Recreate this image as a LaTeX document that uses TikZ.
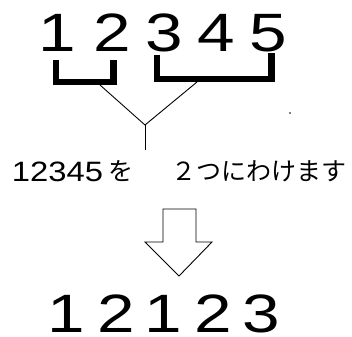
\documentclass[tikz,border=0pt]{standalone}
\usepackage{fontspec}
\setmainfont{Liberation Sans}
\newfontfamily\jpfont{Noto Sans CJK JP}
\begin{document}
\begin{tikzpicture}[x=1pt,y=-1pt,
  bigdigit/.style={inner sep=0pt,anchor=base,font=\fontsize{54}{54}\selectfont},
  smalltext/.style={inner sep=0pt,anchor=base,font=\fontsize{28}{28}\selectfont},
  jptext/.style={inner sep=0pt,anchor=base,font=\jpfont\fontsize{25}{25}\selectfont},
  bracket/.style={line width=6.5pt,line cap=butt,line join=miter},
  thin/.style={line width=0.9pt}]
\useasboundingbox (0,0) rectangle (352,336);
% top digits
\node[bigdigit] (t1) at (57.5,52) {\scalebox{1.25}[1]{1}};
\node[bigdigit] (t2) at (112.5,52) {\scalebox{1.25}[1]{2}};
\node[bigdigit] (t3) at (164.5,52) {\scalebox{1.25}[1]{3}};
\node[bigdigit] (t4) at (216.5,52) {\scalebox{1.25}[1]{4}};
\node[bigdigit] (t5) at (268.5,52) {\scalebox{1.25}[1]{5}};
% brackets
\draw[bracket] (56,60) -- (56,82) -- (113.5,82) -- (113.5,60);
\draw[bracket] (157,55) -- (157,79) -- (271.5,79) -- (271.5,53);
% branch lines
\coordinate (lb) at (100,85);
\coordinate (rb) at (197,82);
\coordinate (j) at (145,125);
\coordinate (jb) at (145,150);
\draw[thin] (lb) -- (j) -- (rb);
\draw[thin] (j) -- (jb);
\fill (290,113) circle (0.8);
% caption
\node[smalltext] (num) at (57.5,182) {\scalebox{1.17}[1]{12345}};
\node[jptext] (wo) at (121,181) {を};
\node[jptext] (rest) at (258.5,181) {２つにわけます};
% hollow arrow
\draw[thin,line join=miter] (163,209) -- (196,209) -- (196,242) -- (212,242)
  -- (179,276) -- (145,242) -- (163,242) -- cycle;
% bottom digits
\node[bigdigit] (b1) at (66,332) {\scalebox{1.25}[1]{1}};
\node[bigdigit] (b2) at (116.5,332) {\scalebox{1.25}[1]{2}};
\node[bigdigit] (b3) at (163.5,332) {\scalebox{1.25}[1]{1}};
\node[bigdigit] (b4) at (213.5,332) {\scalebox{1.25}[1]{2}};
\node[bigdigit] (b5) at (261,332) {\scalebox{1.25}[1]{3}};
\end{tikzpicture}
\end{document}
